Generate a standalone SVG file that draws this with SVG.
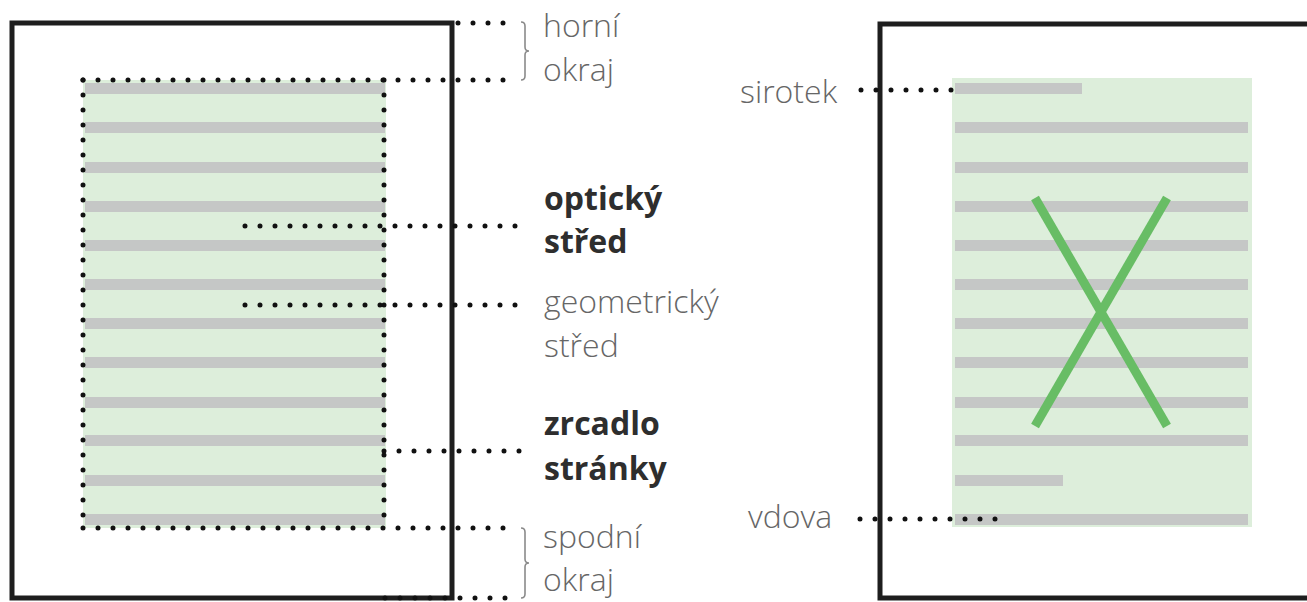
<svg xmlns="http://www.w3.org/2000/svg" width="1307" height="602" viewBox="0 0 1307 602">
<style>
.page{fill:#fff;stroke:#1e1e1e;stroke-width:5}
.area{fill:#ddeedb}
.bar{fill:#c5c7c6}
.dots{fill:none;stroke:#111;stroke-width:5;stroke-linecap:round;stroke-dasharray:0 15}
.brace{fill:none;stroke:#8a8a8a;stroke-width:1.6}
.lbl{font-family:"Open Sans","Liberation Sans",sans-serif;font-size:32px;font-weight:300;fill:#666}
.bold{font-family:"Open Sans","Liberation Sans",sans-serif;font-size:32px;font-weight:700;fill:#2e2e2e}
.cross{stroke:#68bd65;stroke-width:9;stroke-linecap:butt}
</style>
<rect width="1307" height="602" fill="#fff"/>
<g id="left-page">
<rect class="page" x="12" y="23" width="440" height="575"/>
<rect class="area" x="83" y="80" width="303" height="448"/>
<g class="bar">
<rect x="85" y="83" width="300" height="11"/>
<rect x="85" y="122" width="300" height="11"/>
<rect x="85" y="162" width="300" height="11"/>
<rect x="85" y="201" width="300" height="11"/>
<rect x="85" y="240" width="300" height="11"/>
<rect x="85" y="279" width="300" height="11"/>
<rect x="85" y="318" width="300" height="11"/>
<rect x="85" y="357" width="300" height="11"/>
<rect x="85" y="397" width="300" height="11"/>
<rect x="85" y="435" width="300" height="11"/>
<rect x="85" y="475" width="300" height="11"/>
<rect x="85" y="514" width="300" height="11"/>
</g>
</g>
<g id="right-page">
<rect class="page" x="880" y="24" width="440" height="574"/>
<rect class="area" x="952" y="78" width="300" height="449"/>
<g class="bar">
<rect x="955" y="83" width="127" height="11"/>
<rect x="955" y="122" width="293" height="11"/>
<rect x="955" y="162" width="293" height="11"/>
<rect x="955" y="201" width="293" height="11"/>
<rect x="955" y="240" width="293" height="11"/>
<rect x="955" y="279" width="293" height="11"/>
<rect x="955" y="318" width="293" height="11"/>
<rect x="955" y="357" width="293" height="11"/>
<rect x="955" y="397" width="293" height="11"/>
<rect x="955" y="435" width="293" height="11"/>
<rect x="955" y="475" width="108" height="11"/>
<rect x="955" y="514" width="293" height="11"/>
</g>
<g id="cross">
<line class="cross" x1="1035" y1="198" x2="1167" y2="426"/>
<line class="cross" x1="1167" y1="198" x2="1035" y2="426"/>
</g>
</g>
<g id="connectors">
<path class="dots" d="M83 80 V528 M384 80 V528"/>
<path class="dots" d="M83 80 H513"/>
<path class="dots" d="M458 23 H513"/>
<path class="dots" d="M245 226 H525"/>
<path class="dots" d="M245 305 H525"/>
<path class="dots" d="M384 451 H525"/>
<path class="dots" d="M83 528 H513"/>
<path class="dots" d="M385 598 H513"/>
<path class="dots" d="M861 90 H961"/>
<path class="dots" d="M860 519 H1005"/>
<path class="brace" d="M521 22 q4 0 4 4 v21 q0 4 4 4 q-4 0 -4 4 v21 q0 4 -4 4"/>
<path class="brace" d="M521 528 q4 0 4 4 v27 q0 4 4 4 q-4 0 -4 4 v27 q0 4 -4 4"/>
</g>
<g id="label-horni-okraj">
<text class="lbl" x="543" y="37">horní</text>
<text class="lbl" x="543" y="81">okraj</text>
</g>
<g id="label-opticky-stred">
<text class="bold" x="544" y="210">optický</text>
<text class="bold" x="544" y="253">střed</text>
</g>
<g id="label-geometricky-stred">
<text class="lbl" x="544" y="313">geometrický</text>
<text class="lbl" x="544" y="357">střed</text>
</g>
<g id="label-zrcadlo">
<text class="bold" x="544" y="435">zrcadlo</text>
<text class="bold" x="544" y="480">stránky</text>
</g>
<g id="label-spodni-okraj">
<text class="lbl" x="543" y="548">spodní</text>
<text class="lbl" x="543" y="591">okraj</text>
</g>
<g id="label-sirotek">
<text class="lbl" x="740" y="103">sirotek</text>
</g>
<g id="label-vdova">
<text class="lbl" x="748" y="528">vdova</text>
</g>
</svg>
